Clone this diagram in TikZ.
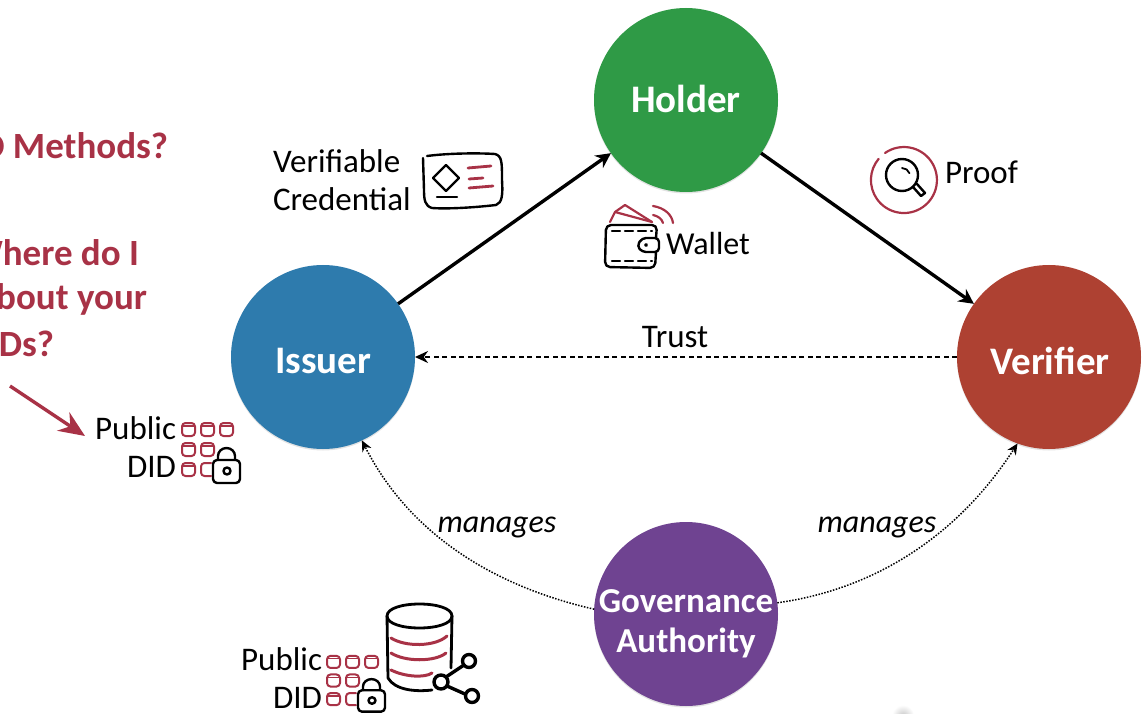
\documentclass[tikz,border=0pt]{standalone}
\usepackage{fontspec}
\setmainfont{Carlito}
\usetikzlibrary{arrows.meta,shadows}
\definecolor{crim}{HTML}{A83246}
\definecolor{cgreen}{HTML}{2F9A46}
\definecolor{cblue}{HTML}{2E7BAD}
\definecolor{cred}{HTML}{AE4132}
\definecolor{cpurple}{HTML}{6F4391}
\newcommand{\fs}[2]{\fontsize{#1}{#2}\selectfont}
\tikzset{
  actor/.style={circle,minimum size=184pt,inner sep=0pt,outer sep=0pt,text=white,font=\fs{39}{40}\bfseries,align=center,
    drop shadow={opacity=.22,shadow xshift=0pt,shadow yshift=-1.5pt}},
  actortext/.style={inner sep=0pt,outer sep=0pt,text=white,font=\fs{39}{40}\bfseries,align=center},
  lbl/.style={inner sep=0pt,outer sep=0pt,text=black,font=\fs{33}{38.5}},
  qtext/.style={inner sep=0pt,outer sep=0pt,text=crim,font=\fs{37}{40}\bfseries,anchor=east},
  flow/.style={line width=3.4pt,-{Stealth[length=15pt,width=15pt]}},
  trustline/.style={line width=2.4pt,dash pattern=on 5pt off 3.5pt,-{Stealth[length=13pt,width=12pt]}},
  manageline/.style={line width=1.5pt,dash pattern=on 1.5pt off 1.5pt,-{Stealth[length=11pt,width=10pt]}},
  ink/.style={draw=black,line width=2.4pt,line cap=round,line join=round},
  rink/.style={draw=crim,line width=2.2pt,line cap=round,line join=round},
  pics/keygrid/.style={code={
    \foreach \cx/\cy in {0/0,19/0,38/0,0/20,19/20,0/40}{
      \draw[rink,line width=2pt,rounded corners=3.5pt] (\cx,\cy+2) rectangle (\cx+13,\cy+15);
      \draw[rink,line width=1.4pt] (\cx+1,\cy+5) -- (\cx+12,\cy+5);
    }
    \draw[rink,line width=2pt,rounded corners=3.5pt] (29,42) -- (19,42) -- (19,55) -- (29,55);
    \draw[ink,fill=white,rounded corners=4pt] (31,39) rectangle (58,62);
    \draw[ink] (36,39) -- (36,35) arc[start angle=180,end angle=0,x radius=8.5pt,y radius=8pt] -- (53,39);
    \draw[ink] (45,50) circle[radius=3.5pt];
  }},
}
\begin{document}
\begin{tikzpicture}[x=1pt,y=-1pt]
\useasboundingbox (0,0) rectangle (1144,714);
\clip (0,0) rectangle (1144,714);
\shade[inner color=black!22,outer color=white] (903,716) circle[radius=11pt];

\node[actor,fill=cgreen] (holder) at (686,100) {};
\node[actor,fill=cblue] (issuer) at (323,357) {};
\node[actor,fill=cred] (verifier) at (1049,357) {};
\node[actor,fill=cpurple] (gov) at (686,614) {};
\node[actortext] (tholder) at (686,99) {Holder};
\node[actortext] (tissuer) at (323,361) {Issuer};
\node[actortext] (tverifier) at (1050,361) {Verifier};
\node[actortext,font=\fs{35}{40}\bfseries] (tgov) at (686,624) {Governance\\Authority};

\draw[flow] (issuer) -- (holder);
\draw[flow] (holder) -- (verifier);
\draw[trustline] (verifier) -- (issuer);
\draw[manageline] (gov.177) .. controls (510,590) and (415,545) .. (issuer.-65);
\draw[manageline] (gov.7) .. controls (870,590) and (955,540) .. (verifier.-110);

\node[lbl,align=left,anchor=west] (vc) at (273,180) {Verifiable\\Credential};
\node[lbl,anchor=west,font=\fs{32}{38}] (wallet) at (666,244) {Wallet};
\node[lbl,anchor=west] (proof) at (945,172) {Proof};
\node[lbl] (trust) at (675,337) {Trust};
\node[lbl,font=\fs{32}{38}\itshape] (m1) at (497,527) {manages};
\node[lbl,font=\fs{32}{38}\itshape] (m2) at (877,527) {manages};
\node[lbl,align=right,anchor=east] (pd1) at (176,447) {Public\\DID};
\node[lbl,align=right,anchor=east] (pd2) at (322,678) {Public\\DID};

\node[qtext] (q1) at (168,146) {D Methods?};
\node[qtext] (q2) at (139,253) {Where do I};
\node[qtext] (q3) at (147,299) {about your};
\node[qtext] (q4) at (54,344) {Ds?};

\coordinate (ra) at (10,386);
\coordinate (rb) at (85,436);
\draw[crim,line width=3.4pt,-{Stealth[length=26pt,width=22pt]}] (ra) -- (rb);

\pic at (182,421) {keygrid};
\pic[yscale=.93] at (327,654) {keygrid};

% credential icon
\draw[ink] (427,156) .. controls (450,153) and (480,153) .. (495,154) .. controls (502,156) and (502,162) .. (502,180)
  .. controls (503,195) and (502,203) .. (496,205) .. controls (470,208) and (445,209) .. (432,208) .. controls (425,206) and (424,200) .. (424,190) -- (423,158);
\draw[ink] (446,165) -- (459,178) -- (446,191) -- (433,178) -- cycle;
\draw[ink] (437,197) -- (457,197);
\draw[rink,line width=2.8pt] (468,168) -- (491,166);
\draw[rink,line width=2.8pt] (469,179) -- (483,178);
\draw[rink,line width=2.8pt] (469,188) -- (493,186);

% wallet icon
\draw[rink] (610,222) -- (615,212) -- (652,222);
\draw[rink] (615,212) -- (625,205) -- (652,222);
\draw[rink] (653,206) .. controls (665,208) and (672,215) .. (673,223);
\draw[rink] (653,215) .. controls (658,216) and (662,219) .. (663,223);
\draw[ink,rounded corners=5pt] (656,238) -- (657,225) -- (606,225) -- (605,267) -- (655,268) -- (656,252);
\draw[ink,rounded corners=4pt] (659,238) -- (642,238) -- (637,246) -- (642,252) -- (659,252) -- cycle;
\draw[ink,fill=black] (646,245) circle[radius=.8pt];
\draw[ink,dash pattern=on 8pt off 5pt] (612,231) -- (652,231);
\draw[ink,dash pattern=on 8pt off 5pt] (612,261) -- (652,261);

% proof icon
\draw[rink] (885,153) arc[start angle=125,end angle=-220,radius=33pt];
\draw[ink] (902,175) circle[radius=16pt];
\draw[ink,line width=1.8pt] (902,168) arc[start angle=90,end angle=20,radius=8pt];
\draw[ink] (913,187) -- (921,196) -- (925,193) -- (917,184);

% database icon
\draw[ink,line width=2.8pt] (387,616) .. controls (387,600) and (452,600) .. (452,616) .. controls (452,632) and (387,632) .. (387,616);
\draw[ink,line width=2.8pt] (387,616) -- (388,678) .. controls (395,690) and (415,692) .. (432,690);
\draw[ink,line width=2.8pt] (452,616) -- (451,668);
\draw[rink,line width=3pt] (391,638) .. controls (405,647) and (435,647) .. (447,636);
\draw[rink,line width=3pt] (391,653) .. controls (405,662) and (435,662) .. (446,653);
\draw[rink,line width=3pt] (391,670) .. controls (405,677) and (425,678) .. (432,673);
\draw[ink,line width=3.4pt] (446,677) -- (464,665);
\draw[ink,line width=3.4pt] (447,686) -- (465,694);
\draw[ink,line width=3.4pt,fill=white] (441,682) circle[radius=7pt];
\draw[ink,line width=3.4pt] (469,661) circle[radius=6.5pt];
\draw[ink,line width=3.4pt] (472,696) circle[radius=6.5pt];
\end{tikzpicture}
\end{document}
